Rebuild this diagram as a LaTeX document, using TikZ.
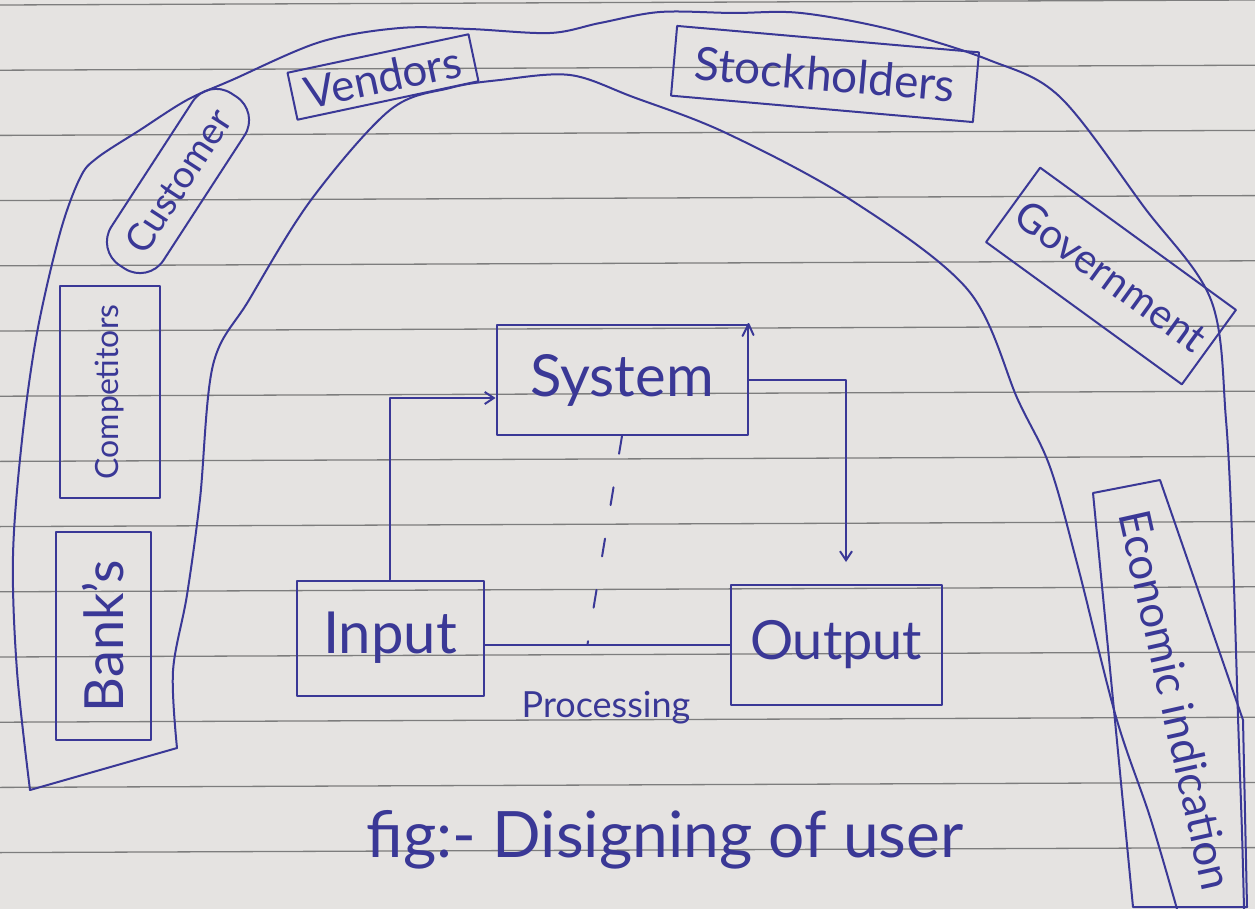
\documentclass[tikz,border=0pt]{standalone}
\usepackage{fontspec}
\setmainfont{Lato}
\usetikzlibrary{arrows.meta,calc}
\definecolor{ink}{RGB}{58,56,150}
\definecolor{paper}{RGB}{229,227,225}
\definecolor{rulecol}{RGB}{125,125,125}
\begin{document}
\begin{tikzpicture}[x=1pt,y=-1pt,
  pen/.style={draw=ink, line width=2pt, line join=round, line cap=round},
  box/.style={pen, text=ink, inner sep=0pt},
  lbl/.style={text=ink, inner sep=0pt},
  tip/.style={-{Straight Barb[length=9pt,width=12pt,line width=2pt]}}]
\fill[paper] (0,0) rectangle (1255,909);
\useasboundingbox (0,0) rectangle (1255,909);
\foreach \k in {0,...,13}
  \draw[rulecol, line width=1.3pt] (0,{5+65.2*\k}) -- (1255,{0+65.2*\k});
% outer and inner bands of the arch
\draw[pen] plot[smooth, tension=0.55] coordinates {(30,790) (17,671) (13,556) (22,440) (37,333) (60,233) (80,178) (97,158) (140,130) (187,100) (232,80) (320,42) (400,28) (470,29) (550,33) (600,23) (660,12) (733,13) (801,13) (893,30) (989,60) (1060,97) (1144,207) (1211,300) (1226,420) (1233,560) (1238,717) (1242,833) (1244,909)};
\draw[pen] plot[smooth, tension=0.55] coordinates {(177,748) (173,671) (187,595) (200,499) (213,365) (249,300) (311,200) (390,110) (450,88) (500,80) (570,75) (633,97) (726,133) (851,200) (968,290) (1018,400) (1050,467) (1078,567) (1116,717) (1150,817) (1177,909)};
\draw[pen] (30,790) -- (177,748);
% environment boxes
\node[box, rotate=12, minimum width=185pt, minimum height=48pt, font=\fontsize{44}{48}\selectfont] (vendors) at (383,77) {Vendors};
\node[box, rotate=-5, minimum width=303pt, minimum height=70pt, font=\fontsize{46}{50}\selectfont] (stock) at (825,74) {Stockholders};
\node[box, rotate=57, rounded corners=28pt, minimum width=205pt, minimum height=62pt, font=\fontsize{38}{42}\selectfont] (cust) at (178,181) {Customer};
\node[box, rotate=90, minimum width=212pt, minimum height=100pt, font=\fontsize{32}{36}\selectfont] (comp) at (110,392) {Competitors};
\node[box, rotate=90, minimum width=208pt, minimum height=95pt, font=\fontsize{54}{58}\selectfont] (bank) at (103,636) {Bank's};
\node[box, rotate=-36, minimum width=242pt, minimum height=92pt, font=\fontsize{41}{45}\selectfont] (gov) at (1111,276) {Government};
\node[lbl, rotate=-77.4, font=\fontsize{44}{48}\selectfont] (econ) at (1176,700) {Economic indication};
\draw[pen] ($(econ.center)+(-83,-207)$) -- ($(econ.center)+(-16,-220)$) -- ($(econ.center)+(67,20)$) -- ($(econ.center)+(71,207)$) -- ($(econ.center)+(-43,207)$) -- cycle;
% system diagram
\node[box, minimum width=251pt, minimum height=110pt, font=\fontsize{58}{62}\selectfont] (system) at (622,380) {System};
\node[box, minimum width=187pt, minimum height=115pt, font=\fontsize{58}{62}\selectfont] (input) at (390,638) {Input};
\node[box, minimum width=211pt, minimum height=120pt, font=\fontsize{54}{58}\selectfont] (output) at (836,645) {Output};
\draw[pen] ($(system.north east)+(-6,12)$) -- (system.north east) -- ($(system.north east)+(5,11)$);
\draw[pen] (input.east |- output.west) coordinate (pa) -- (output.west);
\coordinate (pm) at ($(pa)!0.42!(output.west)$);
\draw[pen, dash pattern=on 18pt off 34pt] (system.south) -- (pm);
\draw[pen, tip] (input.north) |- ($(system.west)+(0,18)$);
\draw[pen, tip] (system.east) -| ($(output.north)+(10,-22)$);
\node[lbl, font=\fontsize{36}{40}\selectfont] (proc) at (606,708) {Processing};
\node[lbl, font=\fontsize{64}{68}\selectfont, anchor=base] (caption) at (665,857) {fig:- Disigning of user};
\end{tikzpicture}
\end{document}
